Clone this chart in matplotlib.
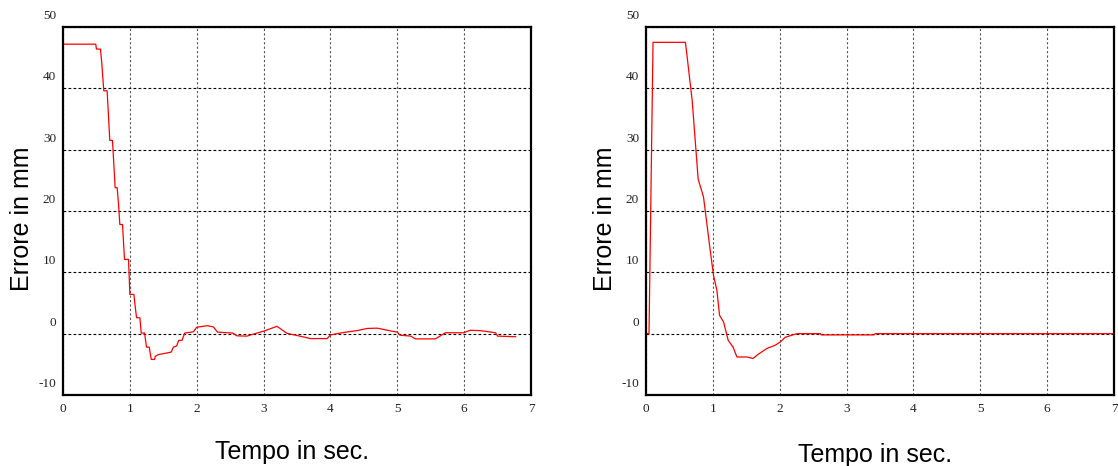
import matplotlib
matplotlib.use("Agg")
import matplotlib.pyplot as plt
from matplotlib.transforms import ScaledTranslation

plt.rcParams["axes.unicode_minus"] = False

# left panel: staircase error signal (time in s, error in mm)
t_left = [0, 0.49, 0.50, 0.56, 0.58, 0.61, 0.66, 0.70, 0.74, 0.78, 0.81, 0.83,
          0.85, 0.89, 0.92, 0.98, 1.00, 1.06, 1.08, 1.10, 1.15, 1.17, 1.22, 1.23,
          1.25, 1.29, 1.32, 1.37, 1.38, 1.43, 1.53, 1.62, 1.65, 1.70, 1.73, 1.78,
          1.82, 1.95, 2.00, 2.16, 2.25, 2.31, 2.54, 2.60, 2.75, 2.90, 3.00, 3.20,
          3.35, 3.50, 3.70, 3.95, 4.00, 4.20, 4.40, 4.55, 4.70, 4.90, 5.00, 5.04,
          5.20, 5.27, 5.57, 5.72, 5.99, 6.09, 6.24, 6.47, 6.50, 6.77]
e_left = [47.2, 47.2, 46.4, 46.4, 44.1, 39.6, 39.6, 31.5, 31.5, 23.8, 23.8, 21.2,
          17.8, 17.8, 12.1, 12.1, 6.4, 6.4, 4.4, 2.6, 2.6, 0.1, 0.1, -0.7,
          -2.2, -2.2, -4.2, -4.2, -3.7, -3.4, -3.2, -3.0, -2.2, -2.0, -1.1, -1.1,
          0.1, 0.3, 1.05, 1.3, 1.1, 0.25, 0.1, -0.35, -0.4, 0.1, 0.4, 1.2,
          0.05, -0.3, -0.8, -0.8, -0.2, 0.2, 0.5, 0.85, 0.9, 0.45, 0.25, -0.25,
          -0.4, -0.85, -0.85, 0.15, 0.15, 0.55, 0.5, 0.15, -0.4, -0.5]

# right panel: smooth error signal
t_right = [0, 0.045, 0.105, 0.59, 0.69, 0.78, 0.86, 0.96, 1.01, 1.06, 1.10, 1.16,
           1.23, 1.30, 1.36, 1.51, 1.60, 1.68, 1.81, 1.93, 2.01, 2.08, 2.18, 2.26,
           2.61, 2.62, 3.41, 3.43, 7.0]
e_right = [0, 0, 47.5, 47.5, 38.1, 25.2, 22.3, 13.6, 9.5, 7.1, 3.0, 1.9,
           -1.1, -2.15, -3.8, -3.8, -4.05, -3.35, -2.4, -1.9, -1.35, -0.6, -0.25, 0,
           0, -0.2, -0.2, 0, 0]

x_ticks = [0, 1, 2, 3, 4, 5, 6, 7]
y_ticks = [-10, 0, 10, 20, 30, 40, 50]

fig = plt.figure(figsize=(11.18, 4.66), dpi=100)
ax1 = fig.add_axes([63 / 1118, 71 / 466, 468 / 1118, 368 / 466])
ax2 = fig.add_axes([646 / 1118, 71 / 466, 468 / 1118, 368 / 466])

label_font = dict(family="Liberation Sans", size=18)
lift = ScaledTranslation(0, 12.5 / 100, fig.dpi_scale_trans)

for ax, t, e, xl_y in [(ax1, t_left, e_left, -0.155), (ax2, t_right, e_right, -0.163)]:
    ax.plot(t, e, color="red", lw=0.9)
    ax.set_xlim(0, 7)
    ax.set_ylim(-10, 50)
    ax.set_xticks(x_ticks)
    ax.set_yticks(y_ticks)
    ax.grid(axis="x", color="#555555", linestyle=(0, (2, 2)), lw=0.8)
    ax.grid(axis="y", color="black", linestyle=(0, (2.5, 2)), lw=0.8)
    ax.set_axisbelow(True)
    for sp in ax.spines.values():
        sp.set_linewidth(1.6)
        sp.set_color("black")
    ax.tick_params(length=0, labelsize=9.5, colors="#222222")
    ax.tick_params(axis="x", pad=6)
    ax.tick_params(axis="y", pad=5)
    for lab in ax.get_xticklabels() + ax.get_yticklabels():
        lab.set_family("Liberation Serif")
    # the y labels sit a bit above their grid lines
    for lab in ax.get_yticklabels():
        lab.set_transform(lab.get_transform() + lift)

    ax.set_xlabel("Tempo in sec.", fontdict=label_font)
    ax.xaxis.set_label_coords(0.489, xl_y)
    ax.xaxis.label.set_verticalalignment("center")
    ax.set_ylabel("Errore in mm", fontdict=label_font)
    ax.yaxis.set_label_coords(-0.0876, 0.478)
    ax.yaxis.label.set_verticalalignment("center")

fig.savefig("out.png", dpi=100)
